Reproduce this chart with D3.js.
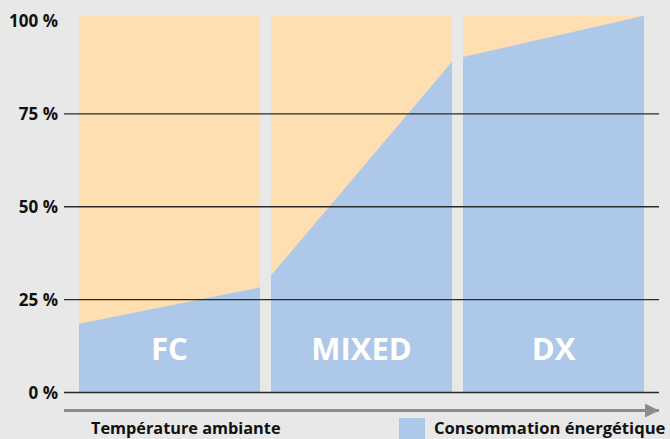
<!DOCTYPE html>
<html>
<head>
<meta charset="utf-8">
<script src="https://cdn.jsdelivr.net/npm/d3@7"></script>
<style>
  body { margin: 0; background: #e8e8e8; }
  svg { display: block; font-family: "Open Sans", sans-serif; }
</style>
</head>
<body>
<svg id="chart" width="670" height="439"></svg>
<script>
const categories = ["FC", "MIXED", "DX"];
const energyStart = [18.5, 31.5, 90.3];   // % at left edge of each regime
const energyEnd = [28.3, 89.0, 101.4];    // % at right edge
const yTicks = [0, 25, 50, 75, 100];
const gridTicks = [0, 25, 50, 75];
const yTop = 101.4;

const svg = d3.select("#chart"),
      width = +svg.attr("width"),
      height = +svg.attr("height");

const orange = "#fedfb2",
      blue = "#aec8ea",
      bg = "#e8e8e8";

svg.append("rect").attr("width", width).attr("height", height).attr("fill", bg);

const x = d3.scaleBand().domain(categories).range([79, 644]).paddingInner(11 / 192).paddingOuter(0);
const y = d3.scaleLinear().domain([0, 100]).range([392.5, 21]);

// panels
categories.forEach((c, i) => {
  const x0 = x(c), x1 = x(c) + x.bandwidth();
  svg.append("rect")
      .attr("x", x0).attr("y", y(yTop))
      .attr("width", x.bandwidth()).attr("height", y(0) - y(yTop))
      .attr("fill", orange);

  const inner = d3.scaleLinear().domain([0, 1]).range([x0, x1]);
  const pts = [[0, 0], [0, energyStart[i]], [1, energyEnd[i]], [1, 0]];
  svg.append("path")
      .attr("d", d3.line().x(d => inner(d[0])).y(d => y(d[1]))(pts) + "Z")
      .attr("fill", blue);

  svg.append("text")
      .attr("x", x0 + x.bandwidth() / 2)
      .attr("y", 360)
      .attr("text-anchor", "middle")
      .attr("fill", "#fff")
      .attr("font-weight", "bold")
      .attr("font-size", 31)
      .text(c);
});

// grid lines
svg.append("g").selectAll("line").data(gridTicks).join("line")
    .attr("x1", 64).attr("x2", 659)
    .attr("y1", d => y(d)).attr("y2", d => y(d))
    .attr("stroke", "#2b2b2b")
    .attr("stroke-width", 1.3);

// y labels
svg.append("g").selectAll("text").data(yTicks).join("text")
    .attr("x", 58)
    .attr("y", d => y(d))
    .attr("dy", "0.36em")
    .attr("text-anchor", "end")
    .attr("font-weight", "bold")
    .attr("font-size", 17)
    .attr("fill", "#111")
    .text(d => d + " %");

// temperature arrow
svg.append("defs").append("marker")
    .attr("id", "arrow")
    .attr("viewBox", "0 0 10 10")
    .attr("refX", 10).attr("refY", 5)
    .attr("markerUnits", "userSpaceOnUse")
    .attr("markerWidth", 19).attr("markerHeight", 14)
    .attr("orient", "auto")
    .append("path").attr("d", "M0,0L10,5L0,10Z").attr("fill", "#8c8c8c");

svg.append("line")
    .attr("x1", 64).attr("x2", 659)
    .attr("y1", 410.5).attr("y2", 410.5)
    .attr("stroke", "#8c8c8c")
    .attr("stroke-width", 3)
    .attr("marker-end", "url(#arrow)");

svg.append("text")
    .attr("x", 91).attr("y", 434)
    .attr("font-weight", "bold").attr("font-size", 16.3)
    .attr("fill", "#111")
    .text("Température ambiante");

// legend
svg.append("rect")
    .attr("x", 399).attr("y", 418)
    .attr("width", 26).attr("height", 25)
    .attr("fill", blue);

svg.append("text")
    .attr("x", 434).attr("y", 434)
    .attr("font-weight", "bold").attr("font-size", 16.6)
    .attr("fill", "#111")
    .text("Consommation énergétique");
</script>
</body>
</html>
